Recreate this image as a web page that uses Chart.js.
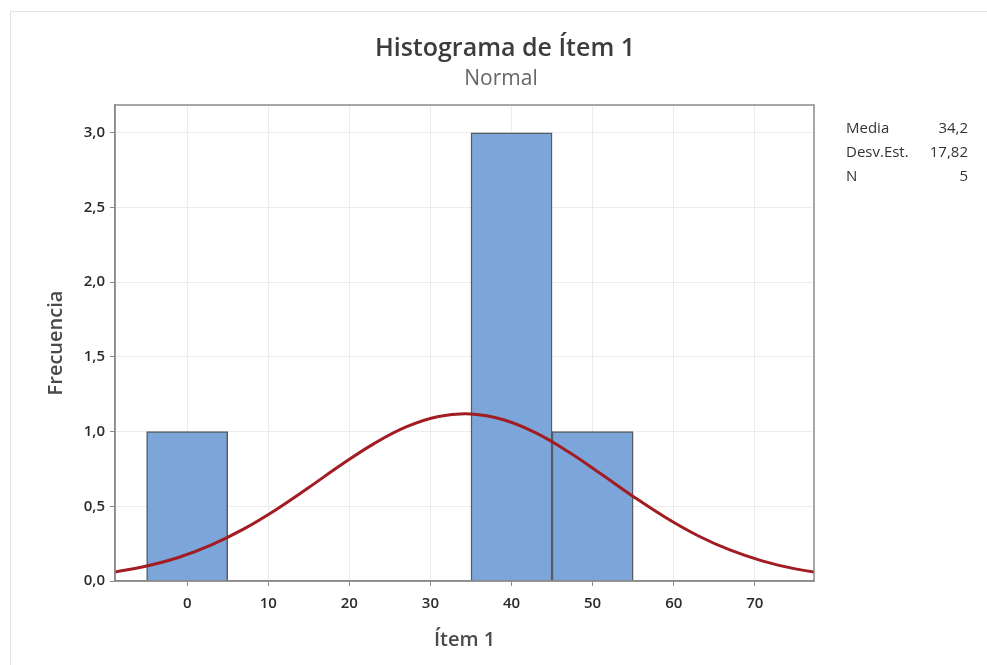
<!DOCTYPE html>
<html>
<head>
<meta charset="utf-8">
<script src="https://cdn.jsdelivr.net/npm/chart.js@4"></script>
<style>
  html, body { margin: 0; padding: 0; background: #fff; overflow: hidden; }
  #wrap { position: relative; width: 987px; height: 665px; }
  #frame { position: absolute; left: 10px; top: 11px; width: 1000px; height: 700px; border: 1px solid #e3e3e3; box-sizing: border-box; }
  canvas { position: absolute; left: 0; top: 0; }
  .t { position: absolute; font-family: "Open Sans", "Noto Sans", sans-serif; white-space: nowrap; }
  #title { left: 505px; top: 29px; transform: translateX(-50%); font-size: 25px; font-weight: 600; color: #3c3c3c; line-height: 34px; }
  #subtitle { left: 501px; top: 62px; transform: translateX(-50%); font-size: 21px; color: #666; line-height: 30px; }
  #stats { left: 846px; top: 115px; width: 122px; font-size: 15px; color: #333; line-height: 24px; }
  #stats div { display: flex; justify-content: space-between; }
</style>
</head>
<body>
<div id="wrap">
  <div id="frame"></div>
  <canvas id="c" width="987" height="665"></canvas>
  <div class="t" id="title">Histograma de Ítem 1</div>
  <div class="t" id="subtitle">Normal</div>
  <div class="t" id="stats"></div>
</div>
<script>
// ---- data ----
const binCenters = [0, 40, 50];
const binCounts = [1, 3, 1];
const curveX = [-9, -5, -1, 3, 7, 11, 15, 19, 23, 27, 31, 35, 39, 43, 47, 51, 55, 59, 63, 67, 71, 75, 79];
const curveY = [0.059, 0.100, 0.159, 0.242, 0.349, 0.479, 0.626, 0.778, 0.918, 1.031, 1.101, 1.118, 1.079, 0.991, 0.865, 0.718, 0.566, 0.425, 0.303, 0.206, 0.133, 0.081, 0.048];
const xTickValues = [0, 10, 20, 30, 40, 50, 60, 70];
const yTickValues = [0, 0.5, 1.0, 1.5, 2.0, 2.5, 3.0];
const statLabels = ["Media", "Desv.Est.", "N"];
const statValues = ["34,2", "17,82", "5"];

const statsEl = document.getElementById('stats');
statLabels.forEach((l, i) => {
  const row = document.createElement('div');
  const a = document.createElement('span'); a.textContent = l;
  const b = document.createElement('span'); b.textContent = statValues[i];
  row.appendChild(a); row.appendChild(b);
  statsEl.appendChild(row);
});

const FONT = '"Open Sans", "Noto Sans", sans-serif';

const frameBox = {
  id: 'frameBox',
  afterDatasetsDraw(chart) {
    const {ctx, chartArea: a} = chart;
    ctx.save();
    ctx.strokeStyle = '#8a8a8a';
    ctx.lineWidth = 1.5;
    ctx.strokeRect(a.left, a.top, a.right - a.left, a.bottom - a.top);
    ctx.restore();
  }
};

new Chart(document.getElementById('c'), {
  type: 'bar',
  data: {
    datasets: [
      {
        type: 'line',
        data: curveX.map((x, i) => ({x: x, y: curveY[i]})),
        borderColor: '#a11d22',
        borderWidth: 3,
        pointRadius: 0,
        tension: 0.4,
        fill: false,
        clip: 0,
        order: 0
      },
      {
        type: 'bar',
        data: binCenters.map((x, i) => ({x: x, y: binCounts[i]})),
        backgroundColor: '#7ca6d9',
        borderColor: '#555b61',
        borderWidth: 1.5,
        barPercentage: 1,
        categoryPercentage: 1,
        order: 1
      }
    ]
  },
  options: {
    responsive: false,
    animation: false,
    events: [],
    layout: { padding: { left: 40, right: 173, top: 105, bottom: 0 } },
    plugins: { legend: { display: false }, tooltip: { enabled: false } },
    scales: {
      x: {
        type: 'linear',
        offset: false,
        min: -8.9,
        max: 77.3,
        afterBuildTicks: s => { s.ticks = xTickValues.map(v => ({value: v})); },
        afterFit: s => { s.height = 84; },
        ticks: { includeBounds: false, color: '#2a2a2a', font: { family: FONT, size: 15, weight: '600' }, padding: 9, maxRotation: 0 },
        grid: { offset: false, color: '#ececec', tickColor: '#8a8a8a', tickLength: 5, lineWidth: 1 },
        border: { color: '#8a8a8a', width: 1.5 },
        title: { display: true, text: 'Ítem 1', color: '#4a4a4a', font: { family: FONT, size: 20, weight: '600' }, padding: { top: 0, bottom: 13 } }
      },
      y: {
        type: 'linear',
        min: 0,
        max: 3.186,
        afterBuildTicks: s => { s.ticks = yTickValues.map(v => ({value: v})); },
        afterFit: s => { s.width = 75; },
        ticks: { includeBounds: false, color: '#2a2a2a', font: { family: FONT, size: 15, weight: '600' }, padding: 5,
                 callback: v => v.toFixed(1).replace('.', ',') },
        grid: { offset: false, color: '#ececec', tickColor: '#8a8a8a', tickLength: 5, lineWidth: 1 },
        border: { color: '#8a8a8a', width: 1.5 },
        title: { display: true, text: 'Frecuencia', color: '#4a4a4a', font: { family: FONT, size: 20, weight: '600' }, padding: { top: 4, bottom: 0 } }
      }
    }
  },
  plugins: [frameBox]
});
</script>
</body>
</html>
